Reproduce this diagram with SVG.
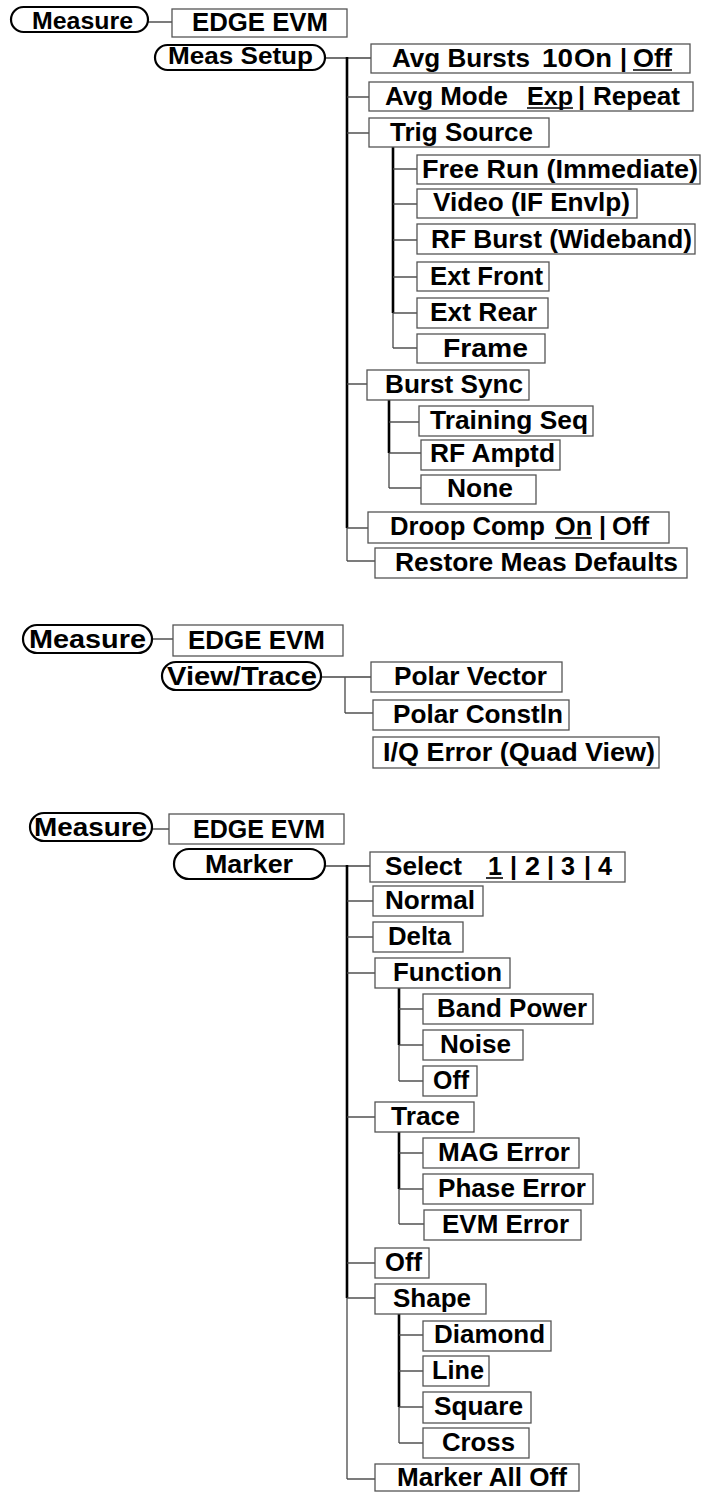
<svg xmlns="http://www.w3.org/2000/svg" width="702" height="1492" viewBox="0 0 702 1492">
<style>
.bg{fill:#fff}
.box{fill:#fff;stroke:#555;stroke-width:1.3}
.pill{fill:#fff;stroke:#000;stroke-width:2.2}
.t{font-family:"Liberation Sans",Arial,Helvetica,sans-serif;font-weight:bold;font-size:25px;fill:#000}
.tp{font-family:"Liberation Sans",Arial,Helvetica,sans-serif;font-weight:bold;font-size:23px;fill:#000}
.c{stroke:#444;stroke-width:1.4;fill:none}
.v{stroke:#000;stroke-width:2.6;fill:none}
.vg{stroke:#555;stroke-width:1.4;fill:none}
.u{stroke:#000;stroke-width:1.6}
</style>
<rect class="bg" x="0" y="0" width="702" height="1492"/>
<g id="connectors">
<line class="c" x1="148" y1="22" x2="172" y2="22"/>
<line class="c" x1="325" y1="58" x2="371" y2="58"/>
<line class="v" x1="347" y1="57" x2="347" y2="528"/>
<line class="vg" x1="347" y1="528" x2="347" y2="561"/>
<line class="c" x1="347" y1="97" x2="369" y2="97"/>
<line class="c" x1="347" y1="133" x2="369" y2="133"/>
<line class="c" x1="347" y1="384" x2="367" y2="384"/>
<line class="c" x1="347" y1="528" x2="368" y2="528"/>
<line class="c" x1="347" y1="561" x2="375" y2="561"/>
<line class="v" x1="393" y1="147" x2="393" y2="313"/>
<line class="vg" x1="393" y1="313" x2="393" y2="348"/>
<line class="c" x1="393" y1="169" x2="417" y2="169"/>
<line class="c" x1="393" y1="204" x2="417" y2="204"/>
<line class="c" x1="393" y1="240" x2="417" y2="240"/>
<line class="c" x1="393" y1="277" x2="417" y2="277"/>
<line class="c" x1="393" y1="313" x2="417" y2="313"/>
<line class="c" x1="393" y1="348" x2="417" y2="348"/>
<line class="v" x1="389" y1="400" x2="389" y2="453"/>
<line class="vg" x1="389" y1="453" x2="389" y2="488"/>
<line class="c" x1="389" y1="422" x2="419" y2="422"/>
<line class="c" x1="389" y1="453" x2="421" y2="453"/>
<line class="c" x1="389" y1="488" x2="421" y2="488"/>
<line class="c" x1="152" y1="639" x2="173" y2="639"/>
<line class="c" x1="321" y1="677" x2="371" y2="677"/>
<line class="vg" x1="345" y1="677" x2="345" y2="713"/>
<line class="c" x1="345" y1="713" x2="373" y2="713"/>
<line class="c" x1="152" y1="829" x2="169" y2="829"/>
<line class="c" x1="325" y1="866" x2="370" y2="866"/>
<line class="v" x1="347" y1="865" x2="347" y2="1298"/>
<line class="vg" x1="347" y1="1298" x2="347" y2="1479"/>
<line class="c" x1="347" y1="901" x2="373" y2="901"/>
<line class="c" x1="347" y1="937" x2="373" y2="937"/>
<line class="c" x1="347" y1="973" x2="375" y2="973"/>
<line class="c" x1="347" y1="1117" x2="375" y2="1117"/>
<line class="c" x1="347" y1="1263" x2="375" y2="1263"/>
<line class="c" x1="347" y1="1298" x2="375" y2="1298"/>
<line class="c" x1="347" y1="1479" x2="375" y2="1479"/>
<line class="v" x1="399" y1="988" x2="399" y2="1045"/>
<line class="vg" x1="399" y1="1045" x2="399" y2="1081"/>
<line class="c" x1="399" y1="1009" x2="423" y2="1009"/>
<line class="c" x1="399" y1="1045" x2="423" y2="1045"/>
<line class="c" x1="399" y1="1081" x2="423" y2="1081"/>
<line class="v" x1="399" y1="1132" x2="399" y2="1189"/>
<line class="vg" x1="399" y1="1189" x2="399" y2="1224"/>
<line class="c" x1="399" y1="1153" x2="423" y2="1153"/>
<line class="c" x1="399" y1="1189" x2="423" y2="1189"/>
<line class="c" x1="399" y1="1224" x2="424" y2="1224"/>
<line class="v" x1="399" y1="1314" x2="399" y2="1407"/>
<line class="vg" x1="399" y1="1407" x2="399" y2="1443"/>
<line class="c" x1="399" y1="1335" x2="423" y2="1335"/>
<line class="c" x1="399" y1="1371" x2="423" y2="1371"/>
<line class="c" x1="399" y1="1407" x2="423" y2="1407"/>
<line class="c" x1="399" y1="1443" x2="423" y2="1443"/>
</g>

<g id="s1-measure"><rect class="pill" x="11" y="7" width="137" height="25" rx="12.5"/><text class="tp" x="32" y="29" textLength="101" lengthAdjust="spacingAndGlyphs">Measure</text></g>
<g id="s1-edgeevm"><rect class="box" x="172" y="9" width="175" height="28"/><text class="t" x="192" y="31" textLength="136" lengthAdjust="spacingAndGlyphs">EDGE EVM</text></g>
<g id="s1-meassetup"><rect class="pill" x="155" y="45" width="170" height="25" rx="12.5"/><text class="tp" x="168" y="64" textLength="145" lengthAdjust="spacingAndGlyphs">Meas Setup</text></g>
<g id="s1-avgbursts"><rect class="box" x="371" y="44" width="319" height="29"/>
<text class="t" x="392" y="67" textLength="138" lengthAdjust="spacingAndGlyphs">Avg Bursts</text>
<text class="t" x="542" y="67" textLength="31" lengthAdjust="spacingAndGlyphs">10</text>
<text class="t" x="574" y="67" textLength="38" lengthAdjust="spacingAndGlyphs">On</text>
<text class="t" x="620" y="67">|</text>
<text class="t" x="633" y="67" textLength="39" lengthAdjust="spacingAndGlyphs">Off</text>
<line class="u" x1="633" y1="70" x2="672" y2="70"/></g>
<g id="s1-avgmode"><rect class="box" x="369" y="82" width="324" height="29"/>
<text class="t" x="385" y="105" textLength="123" lengthAdjust="spacingAndGlyphs">Avg Mode</text>
<text class="t" x="527" y="105" textLength="46" lengthAdjust="spacingAndGlyphs">Exp</text>
<line class="u" x1="527" y1="108" x2="573" y2="108"/>
<text class="t" x="578" y="105">|</text>
<text class="t" x="593" y="105" textLength="87" lengthAdjust="spacingAndGlyphs">Repeat</text></g>
<g id="s1-trigsource"><rect class="box" x="369" y="118" width="180" height="29"/><text class="t" x="390" y="141" textLength="143" lengthAdjust="spacingAndGlyphs">Trig Source</text></g>
<g id="s1-freerun"><rect class="box" x="417" y="155" width="283" height="29"/><text class="t" x="422" y="178" textLength="276" lengthAdjust="spacingAndGlyphs">Free Run (Immediate)</text></g>
<g id="s1-video"><rect class="box" x="417" y="189" width="220" height="29"/><text class="t" x="433" y="211" textLength="197" lengthAdjust="spacingAndGlyphs">Video (IF Envlp)</text></g>
<g id="s1-rfburst"><rect class="box" x="417" y="224" width="278" height="30"/><text class="t" x="431" y="248" textLength="261" lengthAdjust="spacingAndGlyphs">RF Burst (Wideband)</text></g>
<g id="s1-extfront"><rect class="box" x="417" y="262" width="132" height="29"/><text class="t" x="430" y="285" textLength="113" lengthAdjust="spacingAndGlyphs">Ext Front</text></g>
<g id="s1-extrear"><rect class="box" x="417" y="298" width="131" height="30"/><text class="t" x="430" y="321" textLength="107" lengthAdjust="spacingAndGlyphs">Ext Rear</text></g>
<g id="s1-frame"><rect class="box" x="417" y="334" width="128" height="29"/><text class="t" x="443" y="357" textLength="85" lengthAdjust="spacingAndGlyphs">Frame</text></g>
<g id="s1-burstsync"><rect class="box" x="367" y="370" width="162" height="30"/><text class="t" x="385" y="393" textLength="138" lengthAdjust="spacingAndGlyphs">Burst Sync</text></g>
<g id="s1-trainingseq"><rect class="box" x="419" y="406" width="174" height="30"/><text class="t" x="430" y="429" textLength="158" lengthAdjust="spacingAndGlyphs">Training Seq</text></g>
<g id="s1-rfamptd"><rect class="box" x="421" y="440" width="139" height="30"/><text class="t" x="430" y="462" textLength="125" lengthAdjust="spacingAndGlyphs">RF Amptd</text></g>
<g id="s1-none"><rect class="box" x="421" y="475" width="115" height="29"/><text class="t" x="447" y="497" textLength="66" lengthAdjust="spacingAndGlyphs">None</text></g>
<g id="s1-droop"><rect class="box" x="368" y="512" width="301" height="31"/>
<text class="t" x="390" y="535" textLength="155" lengthAdjust="spacingAndGlyphs">Droop Comp</text>
<text class="t" x="555" y="535" textLength="37" lengthAdjust="spacingAndGlyphs">On</text>
<line class="u" x1="555" y1="538" x2="592" y2="538"/>
<text class="t" x="599" y="535">|</text>
<text class="t" x="612" y="535" textLength="37" lengthAdjust="spacingAndGlyphs">Off</text></g>
<g id="s1-restore"><rect class="box" x="375" y="548" width="312" height="30"/><text class="t" x="395" y="571" textLength="283" lengthAdjust="spacingAndGlyphs">Restore Meas Defaults</text></g>

<g id="s2-measure"><rect class="pill" x="23" y="625" width="129" height="28" rx="14"/><text class="t" x="29" y="648" textLength="117" lengthAdjust="spacingAndGlyphs">Measure</text></g>
<g id="s2-edgeevm"><rect class="box" x="173" y="625" width="170" height="31"/><text class="t" x="188" y="649" textLength="137" lengthAdjust="spacingAndGlyphs">EDGE EVM</text></g>
<g id="s2-viewtrace"><rect class="pill" x="162" y="662" width="159" height="28" rx="14"/><text class="t" x="167" y="685" textLength="150" lengthAdjust="spacingAndGlyphs">View/Trace</text></g>
<g id="s2-polarvector"><rect class="box" x="371" y="662" width="191" height="30"/><text class="t" x="394" y="685" textLength="153" lengthAdjust="spacingAndGlyphs">Polar Vector</text></g>
<g id="s2-polarconstln"><rect class="box" x="373" y="700" width="196" height="30"/><text class="t" x="393" y="723" textLength="170" lengthAdjust="spacingAndGlyphs">Polar Constln</text></g>
<g id="s2-iqerror"><rect class="box" x="373" y="737" width="286" height="31"/><text class="t" x="383" y="761" textLength="272" lengthAdjust="spacingAndGlyphs">I/Q Error (Quad View)</text></g>

<g id="s3-measure"><rect class="pill" x="30" y="813" width="122" height="28" rx="14"/><text class="t" x="34" y="836" textLength="113" lengthAdjust="spacingAndGlyphs">Measure</text></g>
<g id="s3-edgeevm"><rect class="box" x="169" y="814" width="175" height="30"/><text class="t" x="193" y="838" textLength="132" lengthAdjust="spacingAndGlyphs">EDGE EVM</text></g>
<g id="s3-marker"><rect class="pill" x="174" y="849" width="151" height="30" rx="15"/><text class="t" x="205" y="873" textLength="88" lengthAdjust="spacingAndGlyphs">Marker</text></g>
<g id="s3-select"><rect class="box" x="370" y="852" width="255" height="30"/>
<text class="t" x="385" y="875" textLength="77" lengthAdjust="spacingAndGlyphs">Select</text>
<text class="t" x="488" y="875" textLength="14" lengthAdjust="spacingAndGlyphs">1</text>
<line class="u" x1="486" y1="878" x2="503" y2="878"/>
<text class="t" x="510" y="875">|</text>
<text class="t" x="525" y="875" textLength="15" lengthAdjust="spacingAndGlyphs">2</text>
<text class="t" x="547" y="875">|</text>
<text class="t" x="561" y="875" textLength="14" lengthAdjust="spacingAndGlyphs">3</text>
<text class="t" x="584" y="875">|</text>
<text class="t" x="598" y="875" textLength="14" lengthAdjust="spacingAndGlyphs">4</text></g>
<g id="s3-normal"><rect class="box" x="373" y="886" width="110" height="30"/><text class="t" x="385" y="909" textLength="90" lengthAdjust="spacingAndGlyphs">Normal</text></g>
<g id="s3-delta"><rect class="box" x="373" y="922" width="90" height="30"/><text class="t" x="388" y="945" textLength="63" lengthAdjust="spacingAndGlyphs">Delta</text></g>
<g id="s3-function"><rect class="box" x="375" y="958" width="135" height="30"/><text class="t" x="393" y="981" textLength="109" lengthAdjust="spacingAndGlyphs">Function</text></g>
<g id="s3-bandpower"><rect class="box" x="423" y="994" width="170" height="30"/><text class="t" x="437" y="1017" textLength="150" lengthAdjust="spacingAndGlyphs">Band Power</text></g>
<g id="s3-noise"><rect class="box" x="423" y="1030" width="100" height="30"/><text class="t" x="440" y="1053" textLength="71" lengthAdjust="spacingAndGlyphs">Noise</text></g>
<g id="s3-fnoff"><rect class="box" x="423" y="1066" width="54" height="30"/><text class="t" x="433" y="1089" textLength="36" lengthAdjust="spacingAndGlyphs">Off</text></g>
<g id="s3-trace"><rect class="box" x="375" y="1102" width="99" height="30"/><text class="t" x="391" y="1125" textLength="69" lengthAdjust="spacingAndGlyphs">Trace</text></g>
<g id="s3-magerror"><rect class="box" x="423" y="1138" width="156" height="30"/><text class="t" x="438" y="1161" textLength="132" lengthAdjust="spacingAndGlyphs">MAG Error</text></g>
<g id="s3-phaseerror"><rect class="box" x="423" y="1174" width="170" height="30"/><text class="t" x="438" y="1197" textLength="148" lengthAdjust="spacingAndGlyphs">Phase Error</text></g>
<g id="s3-evmerror"><rect class="box" x="424" y="1210" width="157" height="30"/><text class="t" x="442" y="1233" textLength="127" lengthAdjust="spacingAndGlyphs">EVM Error</text></g>
<g id="s3-off"><rect class="box" x="375" y="1248" width="54" height="30"/><text class="t" x="385" y="1271" textLength="37" lengthAdjust="spacingAndGlyphs">Off</text></g>
<g id="s3-shape"><rect class="box" x="375" y="1284" width="111" height="30"/><text class="t" x="393" y="1307" textLength="78" lengthAdjust="spacingAndGlyphs">Shape</text></g>
<g id="s3-diamond"><rect class="box" x="423" y="1321" width="128" height="30"/><text class="t" x="434" y="1343" textLength="111" lengthAdjust="spacingAndGlyphs">Diamond</text></g>
<g id="s3-line"><rect class="box" x="423" y="1356" width="66" height="30"/><text class="t" x="432" y="1379" textLength="52" lengthAdjust="spacingAndGlyphs">Line</text></g>
<g id="s3-square"><rect class="box" x="423" y="1392" width="108" height="31"/><text class="t" x="434" y="1415" textLength="89" lengthAdjust="spacingAndGlyphs">Square</text></g>
<g id="s3-cross"><rect class="box" x="423" y="1428" width="106" height="30"/><text class="t" x="442" y="1451" textLength="73" lengthAdjust="spacingAndGlyphs">Cross</text></g>
<g id="s3-markeralloff"><rect class="box" x="375" y="1464" width="204" height="27"/><text class="t" x="397" y="1486" textLength="170" lengthAdjust="spacingAndGlyphs">Marker All Off</text></g>
</svg>
